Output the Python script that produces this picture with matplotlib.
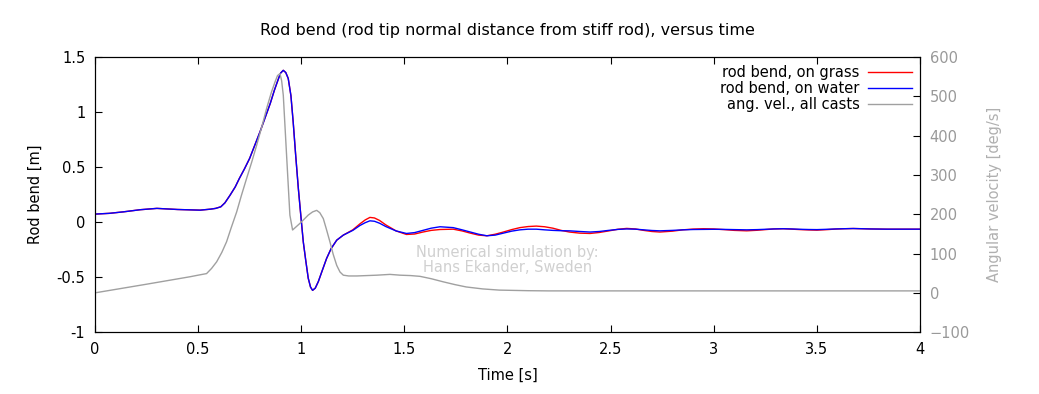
import matplotlib.pyplot as plt

# rod bend, time points (s)
t_bend = [0.00, 0.07, 0.14, 0.22, 0.30, 0.40, 0.51, 0.56, 0.585, 0.61, 0.63, 0.655, 0.68, 0.70, 0.725,
          0.75, 0.775, 0.80, 0.825, 0.85, 0.87, 0.89, 0.90, 0.913, 0.925, 0.937, 0.95, 0.961, 0.973,
          0.986, 0.998, 1.01, 1.022, 1.034, 1.045, 1.055, 1.068, 1.083, 1.10, 1.123, 1.145, 1.172,
          1.204, 1.25, 1.285, 1.31, 1.333, 1.355, 1.38, 1.41, 1.46, 1.51, 1.55, 1.59, 1.63, 1.673,
          1.737, 1.78, 1.82, 1.86, 1.90, 1.94, 1.98, 2.02, 2.06, 2.10, 2.14, 2.18, 2.22, 2.26, 2.30,
          2.35, 2.40, 2.445, 2.49, 2.535, 2.578, 2.62, 2.66, 2.70, 2.739, 2.80, 2.85, 2.90, 2.95,
          3.00, 3.05, 3.10, 3.16, 3.21, 3.25, 3.29, 3.337, 3.38, 3.42, 3.46, 3.50, 3.55, 3.59,
          3.63, 3.676, 3.72, 3.76, 3.80, 3.84, 3.92, 4.00]
bend_water = [0.073, 0.08, 0.094, 0.113, 0.125, 0.115, 0.109, 0.118, 0.125, 0.139, 0.175, 0.245, 0.32, 0.397, 0.485,
              0.58, 0.70, 0.82, 0.95, 1.08, 1.20, 1.306, 1.355, 1.38, 1.36, 1.306, 1.15, 0.91, 0.61,
              0.306, 0.06, -0.18, -0.35, -0.51, -0.59, -0.62, -0.60, -0.54, -0.45, -0.33, -0.24, -0.164,
              -0.118, -0.075, -0.03, -0.005, 0.012, 0.008, -0.01, -0.04, -0.08, -0.103, -0.095, -0.075, -0.055, -0.042,
              -0.05, -0.07, -0.09, -0.11, -0.124, -0.118, -0.1, -0.082, -0.07, -0.064, -0.064, -0.07, -0.075, -0.078, -0.079,
              -0.085, -0.09, -0.085, -0.075, -0.066, -0.062, -0.064, -0.07, -0.076, -0.079, -0.075, -0.07, -0.067, -0.066,
              -0.065, -0.066, -0.068, -0.07, -0.068, -0.065, -0.062, -0.06, -0.062, -0.065, -0.067, -0.068, -0.065, -0.062,
              -0.06, -0.058, -0.06, -0.062, -0.063, -0.064, -0.064, -0.064]
bend_grass = [0.073, 0.08, 0.094, 0.113, 0.125, 0.115, 0.109, 0.118, 0.125, 0.14, 0.176, 0.245, 0.32, 0.397, 0.485,
              0.58, 0.70, 0.82, 0.95, 1.08, 1.20, 1.306, 1.355, 1.38, 1.36, 1.306, 1.15, 0.91, 0.61,
              0.306, 0.06, -0.18, -0.35, -0.51, -0.59, -0.62, -0.60, -0.54, -0.45, -0.33, -0.24, -0.164,
              -0.118, -0.07, -0.015, 0.02, 0.043, 0.038, 0.015, -0.025, -0.08, -0.112, -0.108, -0.09, -0.075, -0.067,
              -0.064, -0.08, -0.10, -0.118, -0.124, -0.11, -0.09, -0.068, -0.05, -0.04, -0.036, -0.042, -0.055, -0.075, -0.09,
              -0.1, -0.103, -0.094, -0.08, -0.065, -0.057, -0.062, -0.075, -0.085, -0.09, -0.082, -0.07, -0.063, -0.06,
              -0.062, -0.068, -0.075, -0.079, -0.074, -0.068, -0.062, -0.06, -0.064, -0.068, -0.071, -0.073, -0.068, -0.063,
              -0.06, -0.058, -0.06, -0.062, -0.063, -0.064, -0.064, -0.064]

# angular velocity (deg/s)
t_ang = [0, 0.25, 0.461, 0.50, 0.541, 0.565, 0.59, 0.615, 0.638, 0.66, 0.687, 0.71, 0.735, 0.76, 0.784,
         0.81, 0.832, 0.855, 0.873, 0.885, 0.897, 0.905, 0.913, 0.929, 0.945, 0.958, 0.975, 0.994, 1.015,
         1.034, 1.055, 1.075, 1.09, 1.107, 1.122, 1.139, 1.155, 1.172, 1.188, 1.204, 1.23, 1.27, 1.367,
         1.43, 1.479, 1.53, 1.576, 1.63, 1.689, 1.745, 1.8, 1.88, 1.96, 2.1, 2.2, 3.0, 4.0]
ang_vel = [0, 22, 41, 45, 49, 62, 79, 103, 130, 165, 206, 248, 291, 333, 376,
           425, 469, 510, 537, 553, 558, 540, 503, 350, 198, 160, 168, 177, 188,
           198, 206, 210, 204, 189, 162, 130, 98, 70, 53, 45, 43, 43, 45,
           47, 45, 44, 42, 36, 28, 21, 15, 10, 7, 5.5, 5, 5, 5]

fig = plt.figure(figsize=(10.39, 3.94), dpi=100)
ax = fig.add_axes([0.0914, 0.157, 0.7941, 0.698])
ax2 = ax.twinx()

ax.plot(t_bend, bend_grass, color='red', lw=1.0, label='rod bend, on grass', zorder=3)
ax.plot(t_bend, bend_water, color='blue', lw=1.0, label='rod bend, on water', zorder=4)
ax2.plot(t_ang, ang_vel, color='#a0a0a0', lw=1.0, label='ang. vel., all casts')

ax.set_xlim(0, 4)
ax.set_ylim(-1, 1.5)
ax2.set_ylim(-100, 600)
ax.set_xticks([0, 0.5, 1, 1.5, 2, 2.5, 3, 3.5, 4])
ax.set_xticklabels(['0', '0.5', '1', '1.5', '2', '2.5', '3', '3.5', '4'])
ax.set_yticks([-1, -0.5, 0, 0.5, 1, 1.5])
ax.set_yticklabels(['-1', '-0.5', '0', '0.5', '1', '1.5'])
ax2.set_yticks(range(-100, 601, 100))

ax.tick_params(axis='both', direction='in', labelsize=10.5, top=True, length=5, pad=7)
ax2.tick_params(axis='y', direction='in', labelsize=10.5, length=5, pad=7, color='black',
                labelcolor='#999999')

ax.set_xlabel('Time [s]', fontsize=10.5, labelpad=8)
ax.set_ylabel('Rod bend [m]', fontsize=10.5, labelpad=10)
ax2.set_ylabel('Angular velocity [deg/s]', fontsize=10.5, color='#b0b0b0', labelpad=12)
ax.set_title('Rod bend (rod tip normal distance from stiff rod), versus time', fontsize=11.5, pad=16)

ax.text(2.0, -0.345, 'Numerical simulation by:\nHans Ekander, Sweden', ha='center', va='center',
        fontsize=10.5, color='#d0d0d0', linespacing=1.0)

h1, l1 = ax.get_legend_handles_labels()
h2, l2 = ax2.get_legend_handles_labels()
ax.legend(h1 + h2, l1 + l2, loc='upper right', frameon=False, markerfirst=False, fontsize=10.5,
          handlelength=3, labelspacing=0.05, borderaxespad=0.15, handletextpad=0.6)

fig.savefig('out.png', dpi=100)
